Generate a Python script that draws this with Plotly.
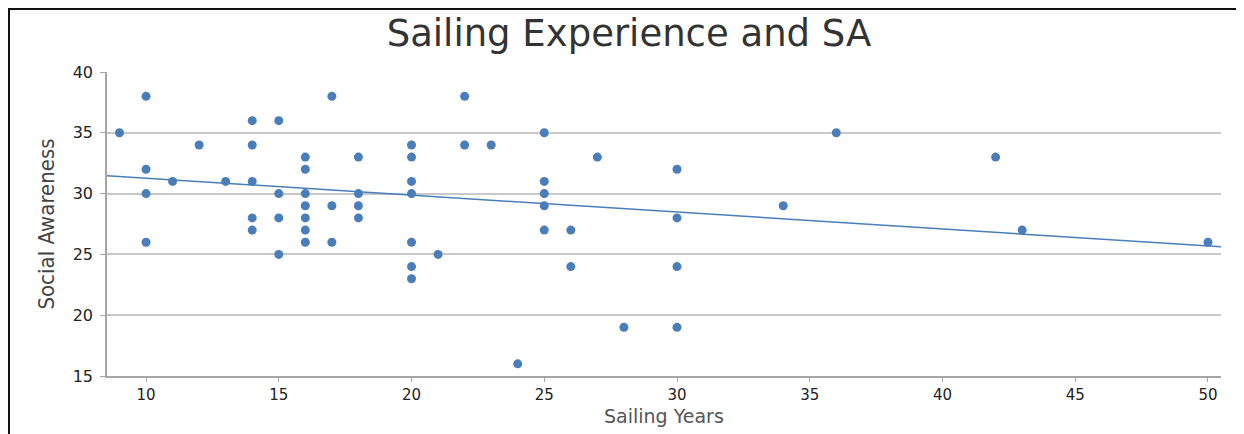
import plotly.graph_objects as go

# Data
sailing_years = [9,
                 10, 10, 10, 10,
                 11, 12, 13,
                 14, 14, 14, 14, 14,
                 15, 15, 15, 15,
                 16, 16, 16, 16, 16, 16, 16,
                 17, 17, 17,
                 18, 18, 18, 18,
                 20, 20, 20, 20, 20, 20, 20,
                 21, 22, 22, 23, 24,
                 25, 25, 25, 25, 25,
                 26, 26, 27, 28,
                 30, 30, 30, 30,
                 34, 36, 42, 43, 50]
social_awareness = [35,
                    38, 32, 30, 26,
                    31, 34, 31,
                    36, 34, 31, 28, 27,
                    36, 30, 28, 25,
                    33, 32, 30, 29, 28, 27, 26,
                    38, 29, 26,
                    33, 30, 29, 28,
                    34, 33, 31, 30, 26, 24, 23,
                    25, 38, 34, 34, 16,
                    35, 31, 30, 29, 27,
                    27, 24, 33, 19,
                    32, 28, 24, 19,
                    29, 35, 33, 27, 26]

# Linear trend line, end points
trend_x = [8.53, 50.49]
trend_y = [31.47, 25.63]

x_ticks = [10, 15, 20, 25, 30, 35, 40, 45, 50]
y_ticks = [15, 20, 25, 30, 35, 40]
x_range = [8.53, 50.49]
y_range = [15, 40]

BLUE = "#4a7ebb"

fig = go.Figure()
fig.add_trace(go.Scatter(x=trend_x, y=trend_y, mode="lines",
                         line=dict(color=BLUE, width=1.5), showlegend=False,
                         hoverinfo="skip"))
fig.add_trace(go.Scatter(x=sailing_years, y=social_awareness, mode="markers",
                         marker=dict(color=BLUE, size=9), showlegend=False))

# page body has an 8px margin; figure sized/positioned to compensate
OFF = 8
W, H = 1244 - OFF, 434 - OFF
L, T = 107 - OFF, 72 - OFF
R = W - (1221 - OFF)
B = H - (376 - OFF)
pw, ph = W - L - R, H - T - B

fig.update_layout(
    width=W, height=H,
    margin=dict(l=L, r=R, t=T, b=B),
    paper_bgcolor="white", plot_bgcolor="white",
    title=dict(text="Sailing Experience and SA", x=(629 - OFF) / W, xanchor="center",
               y=1 - (33 - OFF) / H, yanchor="middle",
               font=dict(family="DejaVu Sans", size=37, color="#333333")),
    xaxis=dict(range=x_range, tickvals=x_ticks, showgrid=False, zeroline=False,
               showline=True, linecolor="#a6a6a6", linewidth=1.5,
               ticks="outside", ticklen=4, tickcolor="#a6a6a6",
               tickfont=dict(family="DejaVu Sans", size=15, color="#222222")),
    yaxis=dict(range=y_range, tickvals=y_ticks, showgrid=True,
               gridcolor="#c8c8c8", gridwidth=1.5, zeroline=False,
               showline=True, linecolor="#a6a6a6", linewidth=1.5,
               ticks="outside", ticklen=5, tickcolor="#a6a6a6",
               ticklabelstandoff=4,
               tickfont=dict(family="DejaVu Sans", size=16, color="#222222"),
               title=dict(text="Social Awareness", standoff=12,
                          font=dict(family="Liberation Sans Narrow, DejaVu Sans Condensed", size=22,
                                    color="#444444"))),
)

# x axis title placed as in the picture
fig.add_annotation(text="Sailing Years", xref="paper", yref="paper",
                   x=0.5, y=-(403 - 376) / ph, xanchor="center", yanchor="top",
                   showarrow=False,
                   font=dict(family="DejaVu Sans", size=19, color="#555555"))

# outer frame (black border as in the picture)
fig.add_shape(type="rect", xref="paper", yref="paper",
              x0=(1 - L) / pw, x1=(W + 10 - L) / pw,
              y0=-(H + 10 - (H - B)) / ph, y1=1 + (T - 1) / ph,
              line=dict(color="#111111", width=2), layer="below")

fig.write_html("out.html")
